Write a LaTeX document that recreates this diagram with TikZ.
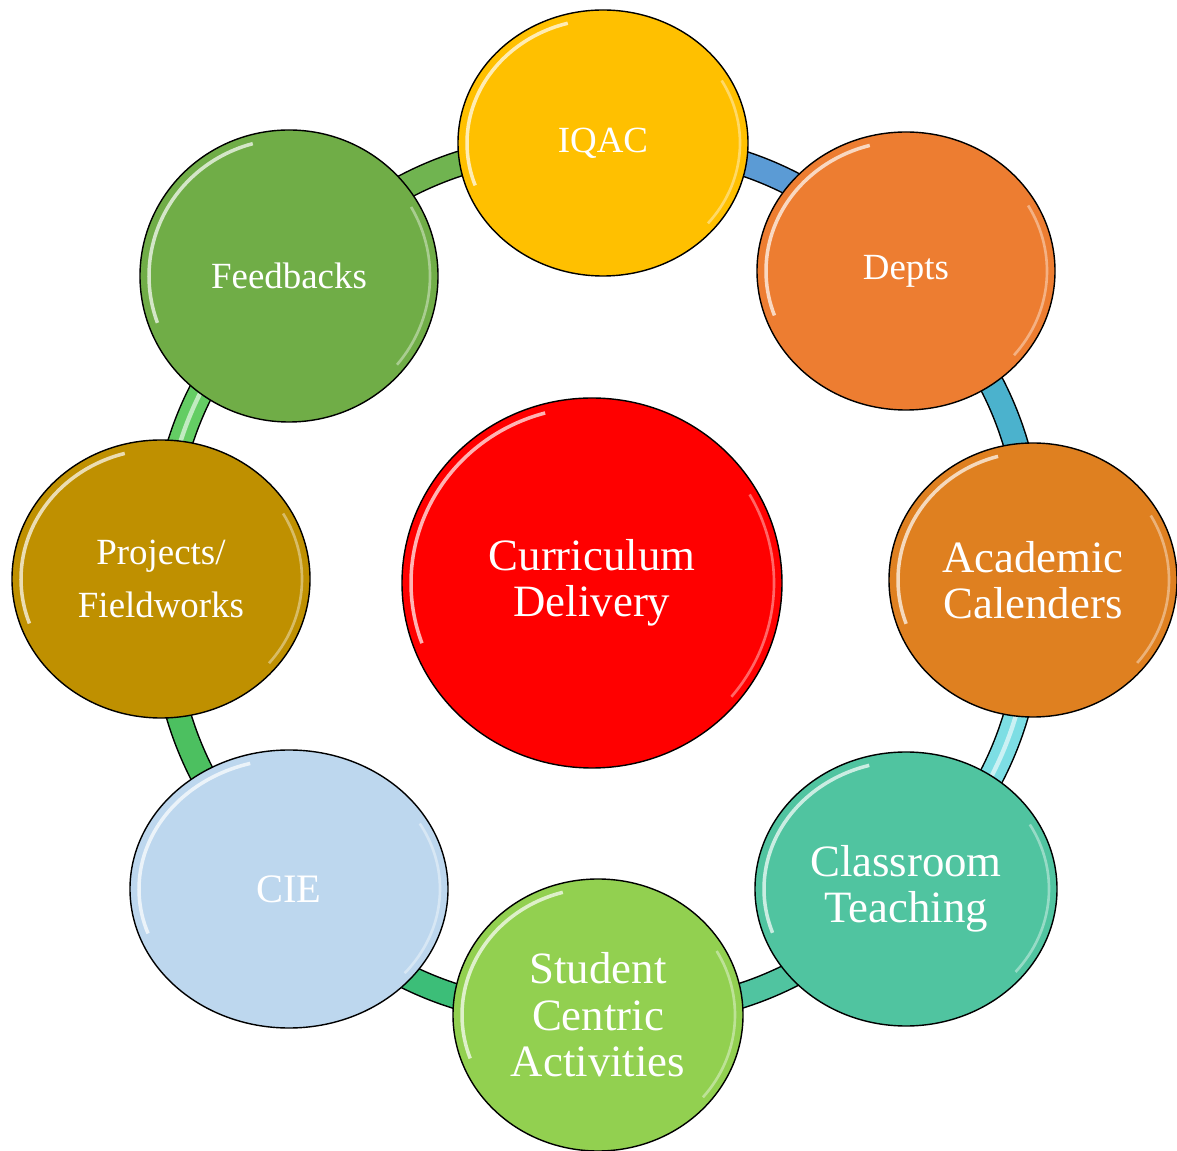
\documentclass[tikz,border=0pt]{standalone}
\usepackage{fontspec}
\setmainfont{Liberation Serif}
\usetikzlibrary{shapes.geometric, backgrounds}

\definecolor{iqacc}{RGB}{255,192,0}
\definecolor{deptc}{RGB}{237,125,49}
\definecolor{calc}{RGB}{223,128,32}
\definecolor{teachc}{RGB}{80,196,160}
\definecolor{studc}{RGB}{146,208,80}
\definecolor{ciec}{RGB}{189,215,238}
\definecolor{projc}{RGB}{191,144,0}
\definecolor{feedc}{RGB}{112,173,71}
\definecolor{linkA}{RGB}{91,155,213}
\definecolor{linkB}{RGB}{75,178,205}
\definecolor{linkC}{RGB}{125,222,228}
\definecolor{linkD}{RGB}{80,196,160}
\definecolor{linkE}{RGB}{60,190,120}
\definecolor{linkF}{RGB}{76,192,96}
\definecolor{linkG}{RGB}{100,205,100}
\definecolor{linkH}{RGB}{112,180,80}

\tikzset{
  bubble/.style n args={3}{ellipse, draw=black, line width=0.8pt, fill=#1,
    inner sep=0pt, text=white, align=center,
    minimum width=2*#2*0.02cm, minimum height=2*#3*0.02cm,
    path picture={
      \draw[white, opacity=.7, line width=2pt]
        ([shift={(105:{(#2-9)*0.02cm} and {(#3-9)*0.02cm})}]path picture bounding box.center)
        arc[start angle=105, end angle=200, x radius={(#2-9)*0.02cm}, y radius={(#3-9)*0.02cm}];
      \draw[white, opacity=.4, line width=1.5pt]
        ([shift={(-40:{(#2-8)*0.02cm} and {(#3-8)*0.02cm})}]path picture bounding box.center)
        arc[start angle=-40, end angle=30, x radius={(#2-8)*0.02cm}, y radius={(#3-8)*0.02cm}];
    }},
  small/.style={font=\fontsize{21}{30}\selectfont},
  large/.style={font=\fontsize{25.5}{26.5}\selectfont},
  link/.style={draw=#1, line width=0.46cm,
    preaction={draw=black, line width=0.52cm}},
  stripe/.style={white, opacity=.6, line width=2.5pt}
}

\begin{document}
\begin{tikzpicture}[x=0.02cm, y=-0.02cm]
\useasboundingbox (0,0) rectangle (1177,1151);

% centre
\node[bubble={red}{190}{185}, large] (curr) at (592,583) {Curriculum\\Delivery};

% outer ring
\node[bubble={iqacc}{145}{133}, small] (iqac) at (603,143) {IQAC};
\node[bubble={deptc}{149}{139}, small] (depts) at (906,271) {Depts};
\node[bubble={calc}{144}{137}, large] (acad) at (1033,580) {Academic\\Calenders};
\node[bubble={teachc}{151}{137}, large] (class) at (906,889) {Classroom\\Teaching};
\node[bubble={studc}{145}{136}, large] (stud) at (598,1015) {Student\\Centric\\Activities};
\node[bubble={ciec}{159}{139}, font=\fontsize{23}{28}\selectfont] (cie) at (289,889) {CIE};
\node[bubble={projc}{149}{139}, small] (proj) at (161,579) {Projects/\\Fieldworks};
\node[bubble={feedc}{149}{146}, small] (feed) at (289,276) {Feedbacks};

% ring links
\begin{scope}[on background layer]
\draw[link=linkA] (iqac.center) to[bend left=22.5] (depts.center);
\draw[link=linkB] (depts.center) to[bend left=22.5] (acad.center);
\draw[link=linkC] (acad.center) to[bend left=22.5] (class.center);
\draw[stripe] (acad.center) to[bend left=22.5] (class.center);
\draw[link=linkD] (class.center) to[bend left=22.5] (stud.center);
\draw[link=linkE] (stud.center) to[bend left=22.5] (cie.center);
\draw[link=linkF] (cie.center) to[bend left=22.5] (proj.center);
\draw[link=linkG] (proj.center) to[bend left=22.5] (feed.center);
\draw[stripe] (proj.center) to[bend left=22.5] (feed.center);
\draw[link=linkH] (feed.center) to[bend left=22.5] (iqac.center);
\end{scope}
\end{tikzpicture}
\end{document}
